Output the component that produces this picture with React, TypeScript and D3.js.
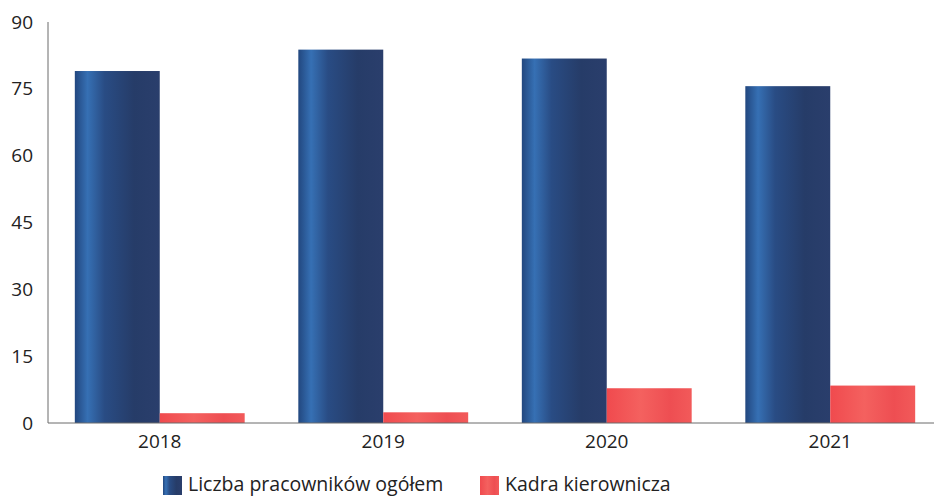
import React from "react";
import * as d3 from "d3";

const years = ["2018", "2019", "2020", "2021"];
const totalEmployees = [79, 83.8, 81.8, 75.6];
const management = [2.2, 2.4, 7.8, 8.4];
const yTicks = [0, 15, 30, 45, 60, 75, 90];
const seriesNames = ["Liczba pracowników ogółem", "Kadra kierownicza"];

const W = 934;
const H = 500;
const M = { left: 48, right: -8, top: 22, bottom: 77 };

export default function App() {
  const x = d3
    .scaleBand<string>()
    .domain(years)
    .range([M.left, W - M.right])
    .paddingInner(0.24)
    .paddingOuter(0.12);
  const y = d3.scaleLinear().domain([0, 90]).range([H - M.bottom, M.top]);
  const bw = x.bandwidth() / 2;
  const font = "'Open Sans', 'DejaVu Sans', sans-serif";
  const series = [totalEmployees, management];
  const fills = ["url(#blueGrad)", "url(#redGrad)"];

  return (
    <svg
      width={W}
      height={H}
      style={{ position: "absolute", left: 0, top: 0, background: "#fff" }}
    >
      <defs>
        <linearGradient id="blueGrad" x1="0" x2="1" y1="0" y2="0">
          <stop offset="0" stopColor="#22477f" />
          <stop offset="0.15" stopColor="#3670b4" />
          <stop offset="0.35" stopColor="#294c84" />
          <stop offset="0.7" stopColor="#263c68" />
          <stop offset="1" stopColor="#2a3e6c" />
        </linearGradient>
        <linearGradient id="redGrad" x1="0" x2="1" y1="0" y2="0">
          <stop offset="0" stopColor="#f04a4e" />
          <stop offset="0.4" stopColor="#f4615f" />
          <stop offset="0.75" stopColor="#ee4e52" />
          <stop offset="1" stopColor="#f25a5a" />
        </linearGradient>
      </defs>

      <line
        x1={M.left}
        x2={M.left}
        y1={y(90)}
        y2={y(0)}
        stroke="#6b6b6b"
        strokeWidth={1}
      />
      {yTicks.map((t) => (
        <text
          key={t}
          x={M.left - 15}
          y={y(t)}
          dy="0.35em"
          textAnchor="end"
          fontFamily={font}
          fontSize={19}
          fill="#222"
        >
          {t}
        </text>
      ))}

      {years.map((yr, i) =>
        series.map((vals, s) => (
          <rect
            key={yr + s}
            x={(x(yr) as number) + s * bw}
            y={y(vals[i])}
            width={bw}
            height={y(0) - y(vals[i])}
            fill={fills[s]}
          />
        ))
      )}

      <line
        x1={M.left}
        x2={W}
        y1={y(0)}
        y2={y(0)}
        stroke="#6b6b6b"
        strokeWidth={1}
      />

      {years.map((yr) => (
        <text
          key={yr}
          x={(x(yr) as number) + x.bandwidth() / 2}
          y={y(0) + 25}
          textAnchor="middle"
          fontFamily={font}
          fontSize={19}
          fill="#222"
        >
          {yr}
        </text>
      ))}

      {seriesNames.map((name, s) => {
        const lx = s === 0 ? 163 : 480;
        return (
          <g key={name}>
            <rect x={lx} y={476} width={19} height={19} fill={fills[s]} />
            <text
              x={lx + 25}
              y={491}
              fontFamily={font}
              fontSize={19.5}
              fill="#222"
            >
              {name}
            </text>
          </g>
        );
      })}
    </svg>
  );
}
